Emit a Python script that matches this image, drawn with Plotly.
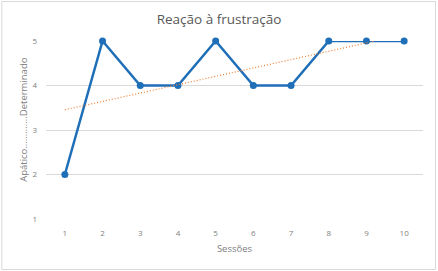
import numpy as np
import plotly.graph_objects as go

sessions = [1, 2, 3, 4, 5, 6, 7, 8, 9, 10]
scores = [2, 5, 4, 4, 5, 4, 4, 5, 5, 5]
y_ticks = [1, 2, 3, 4, 5]

# linear trendline (least squares), clipped at axis max 5
slope, intercept = np.polyfit(sessions, scores, 1)
x_end = min(10, (5 - intercept) / slope)
tx = [1, x_end]
ty = [intercept + slope * v for v in tx]

W, H = 438, 271
L, R, T, B = 45.7, 15, 41, 52
pw, ph = W - L - R, H - T - B

fig = go.Figure()
fig.add_trace(go.Scatter(x=sessions, y=scores, mode="lines+markers",
                         line=dict(color="#1f6fb8", width=2.5),
                         marker=dict(color="#1f6fb8", size=7),
                         cliponaxis=False, showlegend=False))
fig.add_trace(go.Scatter(x=tx, y=ty, mode="lines",
                         line=dict(color="#ed7d31", width=1.2, dash="1px,2px"),
                         showlegend=False))

fig.update_layout(
    width=W, height=H,
    margin=dict(l=L, r=R, t=T, b=B),
    paper_bgcolor="white", plot_bgcolor="white",
    font=dict(family="Open Sans, sans-serif", color="#595959"),
    title=dict(text="Reação à frustração", x=0.5, xanchor="center",
               y=1 - 19 / H, yanchor="middle",
               font=dict(size=13.5, color="#595959")),
    xaxis=dict(range=[0.5, 10.5], tickmode="array", tickvals=sessions,
               ticktext=[str(s) for s in sessions],
               showgrid=False, zeroline=False, showline=False,
               tickfont=dict(size=8, color="#808080"), ticks="",
               ticklabelstandoff=8,
               title=dict(text="Sessões", font=dict(size=9.5, color="#808080"), standoff=8)),
    yaxis=dict(range=[1, 5], tickmode="array", tickvals=y_ticks,
               showgrid=True, gridcolor="#d9d9d9", gridwidth=1, zeroline=False,
               showline=False, ticks="",
               tickfont=dict(size=8, color="#808080"),
               ticklabelstandoff=8),
    annotations=[dict(text="Apático.............Determinado", textangle=-90,
                      xref="paper", yref="paper",
                      x=(22.5 - L) / pw, y=(H - B - 119) / ph,
                      xanchor="center", yanchor="middle", showarrow=False,
                      font=dict(size=9.5, color="#808080"))],
    shapes=[dict(type="rect", xref="paper", yref="paper",
                 x0=(1.5 - L) / pw, x1=(435.5 - L) / pw,
                 y0=(H - B - 269.5) / ph, y1=(H - B - 1.5) / ph,
                 line=dict(color="#d9d9d9", width=1), fillcolor="rgba(0,0,0,0)",
                 layer="below")],
)

fig.write_html("out.html")
